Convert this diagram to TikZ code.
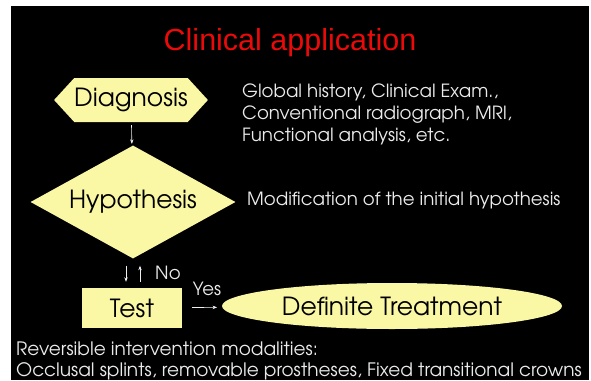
\documentclass[tikz,border=0pt]{standalone}
\usepackage{fontspec}
\setmainfont{TeX Gyre Adventor}
\newfontfamily\titlefont{Liberation Sans}
\usepackage{tikz}
\usetikzlibrary{positioning,arrows.meta,shapes.geometric,shapes.symbols}
\definecolor{slidebg}{RGB}{0,0,0}
\definecolor{boxfill}{RGB}{250,247,165}
\definecolor{titlecol}{RGB}{235,10,10}
\definecolor{notecol}{RGB}{235,235,235}
\tikzset{
  flowbox/.style={draw=none, fill=boxfill, text=black, align=center,
    font=\fontsize{25}{27}\selectfont, inner sep=0pt},
  note/.style={text=notecol, align=left, font=\fontsize{18.2}{22}\selectfont,
    inner sep=0pt},
  arr/.style={-{Stealth[length=1.6mm,width=1.2mm]}, notecol!80, line width=0.6pt},
}

\begin{document}
\begin{tikzpicture}[x=1pt,y=1pt]
  \useasboundingbox[fill=white] (0,0) rectangle (591,-380);
  \fill[slidebg] (11,-6) rectangle (589,-380);

  % title
  \node[text=titlecol, font=\titlefont\fontsize{30.5}{32}\selectfont] (title) at (290,-43) {Clinical application};

  % flow
  \node[flowbox, signal, signal to=east and west, signal pointer angle=95,
    minimum width=153pt, minimum height=44pt] (diag) at (131,-100) {Diagnosis};
  \node[flowbox, diamond, aspect=1.8, minimum width=205pt, minimum height=113pt] (hyp) at (133,-202) {Hypothesis};
  \node[flowbox, rectangle, minimum width=100pt, minimum height=40pt] (test) at (132,-308) {Test};
  \node[flowbox, ellipse, minimum width=340pt, minimum height=46pt] (treat) at (392,-306) {Definite Treatment};

  % notes
  \node[note, anchor=west] (hist) at (242,-114) {Global history, Clinical Exam.,\\Conventional radiograph, MRI,\\Functional analysis, etc.};
  \node[note, anchor=west] (modif) at (247,-201) {Modification of the initial hypothesis};
  \node[note, anchor=west, font=\fontsize{18.5}{21}\selectfont] (modal) at (16,-361) {Reversible intervention modalities:\\Occlusal splints, removable prostheses, Fixed transitional crowns};
  \node[note] (no) at (168,-273) {No};
  \node[note] (yes) at (207,-289) {Yes};

  \draw[arr, shorten <=3pt, shorten >=2pt] (diag) -- (hyp);
  \draw[arr, shorten <=7pt, shorten >=6pt] ([xshift=-6pt]test.north |- hyp.south) -- ([xshift=-6pt]test.north);
  \draw[arr, shorten <=6pt, shorten >=7pt] ([xshift=8pt]test.north) -- ([xshift=8pt]test.north |- hyp.south);
  \draw[arr, shorten <=10pt, shorten >=5pt] (test) -- (treat);
\end{tikzpicture}
\end{document}
